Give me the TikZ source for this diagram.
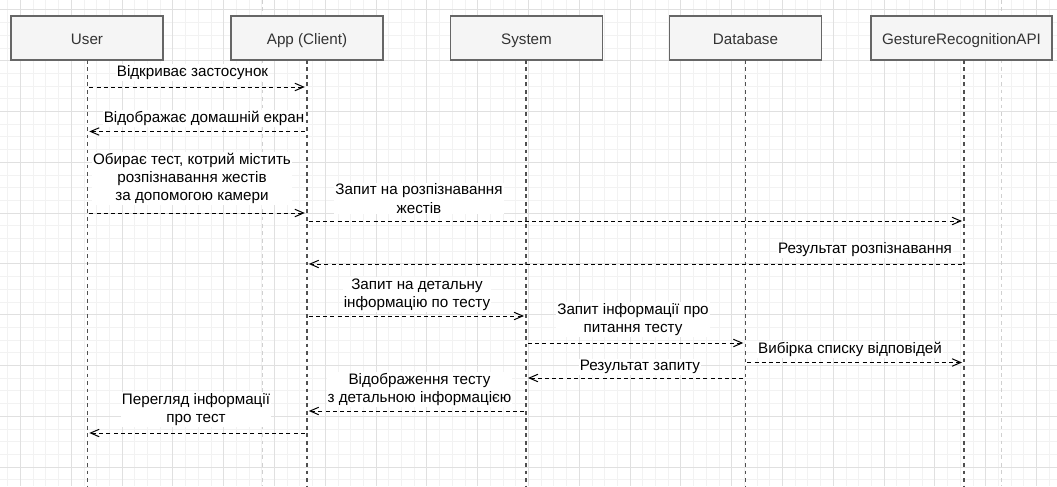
\documentclass[tikz,border=0pt]{standalone}
\usepackage{fontspec}
\setmainfont{Liberation Sans}
\usetikzlibrary{arrows.meta}
\definecolor{gridminor}{HTML}{F2F2F2}
\definecolor{gridmajor}{HTML}{E0E0E0}
\definecolor{boxfill}{HTML}{F5F5F5}
\definecolor{boxline}{HTML}{666666}
\definecolor{hdrtext}{HTML}{333333}
\definecolor{lifecol}{HTML}{505050}
\definecolor{ghostcol}{HTML}{D0D0D0}
\begin{document}
\begin{tikzpicture}[x=0.75pt,y=-0.75pt,
  font=\fontsize{11.4}{13.7}\selectfont,
  minorgrid/.style={gridminor, line width=0.75pt},
  majorgrid/.style={gridmajor, line width=0.75pt},
  header/.style={draw=boxline, fill=boxfill, line width=0.9pt,
    minimum width=114pt, minimum height=33pt, text=hdrtext, inner sep=0pt,
    text height=9.7pt, text depth=0pt},
  lifel/.style={lifecol, line width=1.1pt, dash pattern=on 2.8pt off 2.8pt},
  ghostline/.style={ghostcol, line width=1pt, dash pattern=on 2.8pt off 2.8pt},
  msg/.style={line width=0.75pt, dash pattern=on 3pt off 2.4pt,
    -{Straight Barb[length=6.5pt,width=5.6pt]}, shorten >=1.5pt, shorten <=1.5pt},
  lbl/.style={fill=white, inner sep=0.8pt, align=center, text=black},
]
\path[use as bounding box] (0,0) rectangle (1057,486);
\fill[white] (0,0) rectangle (1057,486);

% background grid
\foreach \i in {-1,...,82} \draw[minorgrid] ({20.5+12.7*\i},0) -- ++(0,486);
\foreach \j in {-1,...,37} \draw[minorgrid] (0,{9.9+12.7*\j}) -- ++(1057,0);
\foreach \i in {0,...,20} \draw[majorgrid] ({20.5+50.8*\i},0) -- ++(0,486);
\foreach \j in {0,...,9} \draw[majorgrid] (0,{9.9+50.8*\j}) -- ++(1057,0);

% faint guide lines
\coordinate (g1t) at (262.7,0);
\coordinate (g1b) at (262.7,486);
\coordinate (g2t) at (1001.7,0);
\coordinate (g2b) at (1001.7,486);
\draw[ghostline] (g1t) -- (g1b);
\draw[ghostline] (g2t) -- (g2b);

% participants
\node[header] (user) at (87,38) {User};
\node[header] (app) at (307,38) {App (Client)};
\node[header] (sys) at (526.5,38) {System};
\node[header] (db) at (745.5,38) {Database};
\node[header, minimum width=135.75pt] (api) at (961.5,38) {GestureRecognitionAPI};

% lifeline anchors
\coordinate (uT) at (87.3,60);
\coordinate (aT) at (306.8,60);
\coordinate (sT) at (526,60);
\coordinate (dT) at (745.3,60);
\coordinate (gT) at (964,60);
\coordinate (bottom) at (0,486);

% message labels
\node[lbl] (l1) at (192.5,72.5) {Відкриває застосунок};
\node[lbl] (l2) at (204,118.5) {Відображає домашній екран};
\node[lbl] (l3) at (192,178.5) {Обирає тест, котрий містить\\розпізнавання жестів\\за допомогою камери};
\node[lbl] (l4) at (419,198.5) {Запит на розпізнавання\\жестів};
\node[lbl] (l5) at (865,250) {Результат розпізнавання};
\node[lbl] (l6) at (417,294.5) {Запит на детальну\\інформацію по тесту};
\node[lbl] (l7) at (633,319.5) {Запит інформації про\\питання тесту};
\node[lbl] (l8) at (850,349.5) {Вибірка списку відповідей};
\node[lbl] (l9) at (640,367) {Результат запиту};
\node[lbl] (l10) at (419.5,389.5) {Відображення тесту\\з детальною інформацією};
\node[lbl] (l11) at (196,409.5) {Перегляд інформації\\про тест};

% lifelines
\foreach \p in {uT,aT,sT,dT,gT} \draw[lifel] (\p) -- (\p |- bottom);

% message rows
\coordinate (y1) at (0,87);
\coordinate (y2) at (0,131.5);
\coordinate (y3) at (0,213);
\coordinate (y4) at (0,221);
\coordinate (y5) at (0,264);
\coordinate (y6) at (0,316);
\coordinate (y7) at (0,343);
\coordinate (y8) at (0,362.5);
\coordinate (y9) at (0,378);
\coordinate (y10) at (0,411);
\coordinate (y11) at (0,433);

\draw[msg] (uT |- y1) -- (aT |- y1);
\draw[msg] (aT |- y2) -- (uT |- y2);
\draw[msg] (uT |- y3) -- (aT |- y3);
\draw[msg] (aT |- y4) -- (gT |- y4);
\draw[msg] (gT |- y5) -- (aT |- y5);
\draw[msg] (aT |- y6) -- (sT |- y6);
\draw[msg] (sT |- y7) -- (dT |- y7);
\draw[msg] (dT |- y8) -- (gT |- y8);
\draw[msg] (dT |- y9) -- (sT |- y9);
\draw[msg] (sT |- y10) -- (aT |- y10);
\draw[msg] (aT |- y11) -- (uT |- y11);
\end{tikzpicture}
\end{document}
